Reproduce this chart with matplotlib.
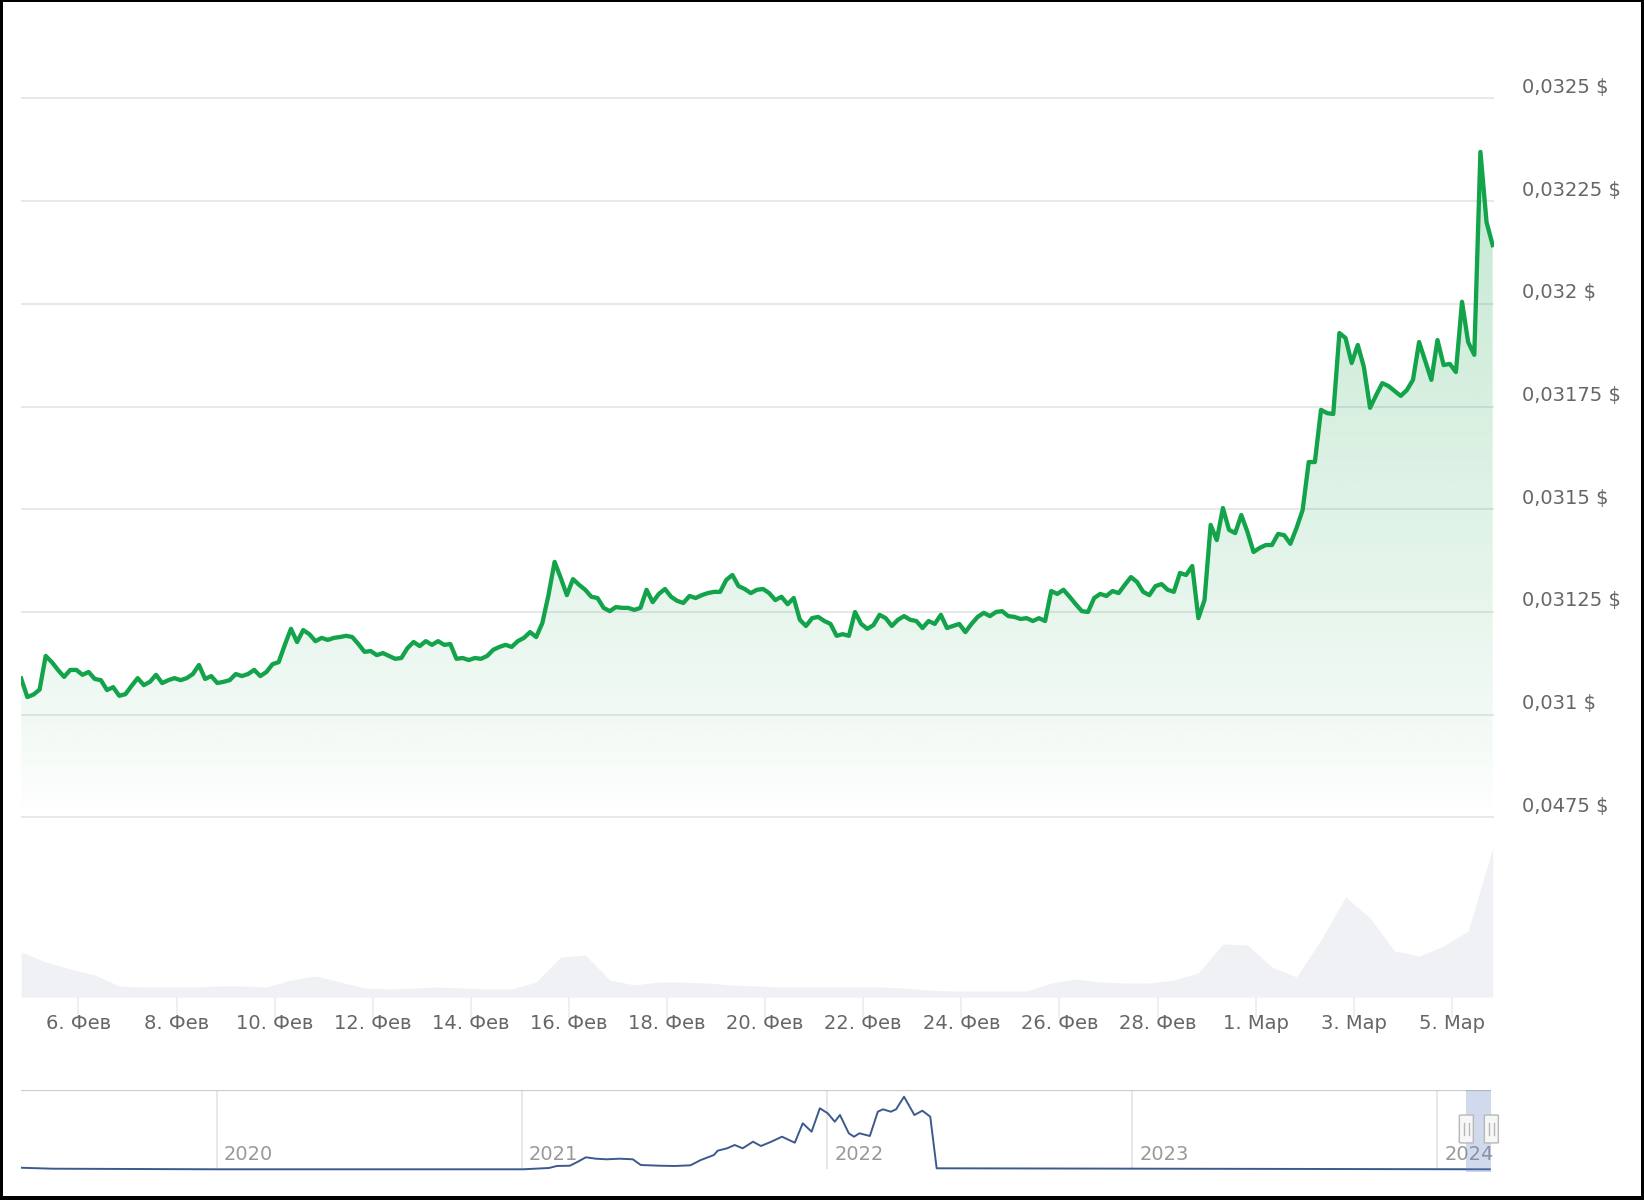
import numpy as np
import pandas as pd
import matplotlib
matplotlib.use("Agg")
import matplotlib.pyplot as plt
import matplotlib.dates as mdates
from matplotlib import transforms
from matplotlib.patches import Rectangle, FancyBboxPatch

W, H = 1644, 1200

# price, one value every 3 hours from 4 Feb 2024 20:00
start = pd.Timestamp("2024-02-04 20:00")
price = [
    0.031088, 0.031043, 0.031049, 0.031061, 0.031143, 0.031128, 0.031109, 0.031092, 0.031109, 0.031109,
    0.031097, 0.031104, 0.031087, 0.031084, 0.031060, 0.031067, 0.031046, 0.031050, 0.031070, 0.031089,
    0.031072, 0.031080, 0.031097, 0.031077, 0.031084, 0.031089, 0.031084, 0.031089, 0.031099, 0.031121,
    0.031087, 0.031094, 0.031077, 0.031080, 0.031084, 0.031099, 0.031094, 0.031099, 0.031109, 0.031094,
    0.031104, 0.031123, 0.031128, 0.031170, 0.031209, 0.031177, 0.031206, 0.031196, 0.031179, 0.031187,
    0.031182, 0.031187, 0.031189, 0.031192, 0.031189, 0.031172, 0.031153, 0.031155, 0.031145, 0.031150,
    0.031143, 0.031136, 0.031138, 0.031162, 0.031177, 0.031167, 0.031179, 0.031170, 0.031179, 0.031170,
    0.031172, 0.031136, 0.031138, 0.031133, 0.031138, 0.031136, 0.031143, 0.031158, 0.031165, 0.031170,
    0.031165, 0.031179, 0.031187, 0.031201, 0.031189, 0.031223, 0.031291, 0.031372, 0.031333, 0.031291,
    0.031330, 0.031316, 0.031304, 0.031287, 0.031284, 0.031260, 0.031252, 0.031262, 0.031260, 0.031260,
    0.031255, 0.031260, 0.031304, 0.031274, 0.031294, 0.031306, 0.031287, 0.031277, 0.031272, 0.031289,
    0.031284, 0.031291, 0.031296, 0.031299, 0.031299, 0.031328, 0.031340, 0.031313, 0.031306, 0.031296,
    0.031304, 0.031306, 0.031296, 0.031279, 0.031287, 0.031269, 0.031284, 0.031231, 0.031216, 0.031235,
    0.031238, 0.031228, 0.031221, 0.031192, 0.031196, 0.031192, 0.031250, 0.031221, 0.031209, 0.031218,
    0.031243, 0.031235, 0.031216, 0.031231, 0.031240, 0.031231, 0.031228, 0.031211, 0.031228, 0.031221,
    0.031243, 0.031211, 0.031216, 0.031221, 0.031201, 0.031221, 0.031238, 0.031248, 0.031240, 0.031250,
    0.031252, 0.031240, 0.031238, 0.031233, 0.031235, 0.031228, 0.031235, 0.031228, 0.031301, 0.031294,
    0.031304, 0.031287, 0.031269, 0.031252, 0.031250, 0.031284, 0.031294, 0.031289, 0.031301, 0.031296,
    0.031316, 0.031335, 0.031323, 0.031299, 0.031291, 0.031313, 0.031318, 0.031304, 0.031299, 0.031345,
    0.031340, 0.031362, 0.031235, 0.031279, 0.031462, 0.031425, 0.031503, 0.031450, 0.031442, 0.031486,
    0.031445, 0.031396, 0.031406, 0.031413, 0.031413, 0.031440, 0.031437, 0.031416, 0.031454, 0.031498,
    0.031615, 0.031615, 0.031742, 0.031734, 0.031732, 0.031929, 0.031917, 0.031856, 0.031900, 0.031846,
    0.031747, 0.031778, 0.031807, 0.031800, 0.031788, 0.031776, 0.031790, 0.031815, 0.031907, 0.031861,
    0.031815, 0.031912, 0.031851, 0.031854, 0.031834, 0.032005, 0.031907, 0.031876, 0.032370, 0.032199,
    0.032143,
]
times = pd.date_range(start, periods=len(price), freq="3h")

# volume (relative), one value every 12 hours
volume = [45, 35, 28, 22, 11, 10, 10, 10, 11, 11,
          10, 17, 21, 15, 9, 8, 9, 10, 9, 8,
          8, 15, 40, 42, 17, 12, 15, 15, 14, 12,
          11, 10, 10, 10, 10, 10, 9, 7, 6, 6,
          6, 6, 14, 18, 15, 14, 14, 17, 24, 53,
          52, 30, 20, 57, 100, 79, 46, 41, 51, 66,
          149]
vol_times = pd.date_range(start, periods=len(volume), freq="12h")

y_ticks = [0.03075, 0.031, 0.03125, 0.0315, 0.03175, 0.032, 0.03225, 0.0325]
y_labels = ["0,0475 $", "0,031 $", "0,03125 $", "0,0315 $", "0,03175 $",
            "0,032 $", "0,03225 $", "0,0325 $"]
x_ticks = pd.date_range("2024-02-06", "2024-03-05", freq="2D")
x_labels = ["6. Фев", "8. Фев", "10. Фев", "12. Фев", "14. Фев", "16. Фев",
            "18. Фев", "20. Фев", "22. Фев", "24. Фев", "26. Фев", "28. Фев",
            "1. Мар", "3. Мар", "5. Мар"]

# navigator: long history (decimal year, relative level)
nav_year = [2019.354, 2019.460, 2020.000, 2021.003, 2021.088, 2021.114, 2021.157, 2021.183,
            2021.209, 2021.242, 2021.277, 2021.320, 2021.363, 2021.389, 2021.449, 2021.500,
            2021.552, 2021.586, 2021.629, 2021.641, 2021.672, 2021.697, 2021.723, 2021.757,
            2021.783, 2021.817, 2021.852, 2021.894, 2021.920, 2021.949, 2021.976, 2022.002,
            2022.025, 2022.042, 2022.071, 2022.088, 2022.106, 2022.140, 2022.166, 2022.183,
            2022.209, 2022.226, 2022.252, 2022.286, 2022.312, 2022.338, 2022.359, 2024.172]
nav_value = [1.6, 0.6, 0, 0, 1.3, 3.3, 3.6, 7.6,
             12, 10.6, 10, 10.6, 10, 4.3, 3.6, 3.3,
             4, 9.3, 14.3, 18.6, 21, 24.3, 21, 27.6,
             23.3, 27.6, 32.6, 26.6, 46, 37.6, 61, 56,
             47.6, 54.3, 36, 32.6, 36, 33.3, 57.6, 60,
             57.6, 60, 72.6, 54.3, 58.6, 52.6, 1, 0]
nav_years = [2020, 2021, 2022, 2023, 2024]


def box(x0, y0, x1, y1):
    return [x0 / W, 1 - y1 / H, (x1 - x0) / W, (y1 - y0) / H]


def dec_year(ts):
    y0 = pd.Timestamp(year=ts.year, month=1, day=1)
    y1 = pd.Timestamp(year=ts.year + 1, month=1, day=1)
    return ts.year + (ts - y0) / (y1 - y0)


fig = plt.figure(figsize=(W / 100, H / 100), dpi=100)
fig.patch.set_facecolor("white")

feb6 = mdates.date2num(pd.Timestamp("2024-02-06"))
day_px = 49.05
xmin = feb6 + (21 - 78.4) / day_px
xmax = feb6 + (1494 - 78.4) / day_px
ymin, ymax = 0.0303128, 0.032691

# volume
axv = fig.add_axes(box(21, 840, 1494, 997))
axv.fill_between(vol_times, volume, 0, color="#f0f1f4", lw=0)
axv.set_xlim(xmin, xmax)
axv.set_ylim(0, 157)
axv.set_yticks([])
axv.set_xticks(x_ticks)
axv.set_xticklabels(x_labels)
axv.tick_params(axis="x", length=15, width=1.2, color="#ececec", pad=-3,
                labelsize=14, labelcolor="#666666")
for s in axv.spines.values():
    s.set_visible(False)

# price
ax = fig.add_axes(box(21, 20, 1494, 997))
ax.patch.set_alpha(0)
ax.hlines(y_ticks, xmin, xmax, color="#e6e6e6", lw=1.3, zorder=0)
poly = ax.fill_between(times, price, ymin, color="none", lw=0)

n = 400
rows = np.linspace(997, 20, n)
alpha = 0.28 * np.clip((815 - rows) / 795, 0, 1) ** 0.75
grad = np.zeros((n, 1, 4))
grad[:, 0, 0] = 22 / 255
grad[:, 0, 1] = 163 / 255
grad[:, 0, 2] = 74 / 255
grad[:, 0, 3] = alpha
img = ax.imshow(grad, extent=[xmin, xmax, ymin, ymax], aspect="auto",
                origin="lower", zorder=2, interpolation="bilinear")
img.set_clip_path(poly.get_paths()[0], transform=ax.transData)

ax.plot(times, price, color="#13a34b", lw=3.1, solid_joinstyle="round", zorder=3)
ax.set_xlim(xmin, xmax)
ax.set_ylim(ymin, ymax)
ax.set_xticks([])
ax.set_yticks([])
for s in ax.spines.values():
    s.set_visible(False)

lab_tr = transforms.offset_copy(
    transforms.blended_transform_factory(ax.transAxes, ax.transData),
    fig=fig, y=11, units="dots")
for v, t in zip(y_ticks, y_labels):
    ax.text(1.019, v, t, transform=lab_tr, ha="left", va="center",
            fontsize=14, color="#666666", clip_on=False)

# navigator
axn = fig.add_axes(box(21, 1090, 1491, 1172))
nx0, nx1 = 2019.3576, 2024.176
axn.set_xlim(nx0, nx1)
axn.set_ylim(-2.7, 79.3)
axn.vlines(nav_years, 0, 79.3, color="#e6e6e6", lw=1.3, zorder=0)
yr_tr = transforms.offset_copy(axn.transData, fig=fig, x=7, units="dots")
for yv in nav_years:
    axn.text(yv, 15.3, str(yv), transform=yr_tr, ha="left", va="center",
             fontsize=14, color="#999999", clip_on=False)
axn.plot(nav_year, nav_value, color="#3d5a8f", lw=1.4, zorder=2)
axn.axhline(79.3, color="#cccccc", lw=1.6)

sel0 = dec_year(times[0])
sel1 = dec_year(times[-1])
axn.add_patch(Rectangle((sel0, -2.7), sel1 - sel0, 82, color="#6685c2",
                        alpha=0.3, lw=0, zorder=3, clip_on=False))
aw = 1470.0
for s in (sel0, sel1):
    cx = (s - nx0) / (nx1 - nx0)
    hb = FancyBboxPatch((cx - 7 / aw, 0.354), 14 / aw, 0.341,
                        boxstyle="round,pad=0,rounding_size=0.004",
                        transform=axn.transAxes, facecolor="#f7f7f7",
                        edgecolor="#b8b8b8", lw=1.0, zorder=5, clip_on=False)
    axn.add_patch(hb)
    for dx in (-2.5, 2.5):
        axn.plot([cx + dx / aw] * 2, [0.45, 0.6], transform=axn.transAxes,
                 color="#b8b8b8", lw=1.0, zorder=6, clip_on=False)
axn.set_xticks([])
axn.set_yticks([])
for s in axn.spines.values():
    s.set_visible(False)

# black frame of the screenshot
for (x0, y0, x1, y1) in [(0, 0, 2.5, H), (0, 0, W, 2), (1640.5, 0, W, H), (0, 1196, W, H)]:
    fig.add_artist(Rectangle((x0 / W, 1 - y1 / H), (x1 - x0) / W, (y1 - y0) / H,
                             transform=fig.transFigure, color="black", lw=0))

fig.savefig("out.png", dpi=100)
